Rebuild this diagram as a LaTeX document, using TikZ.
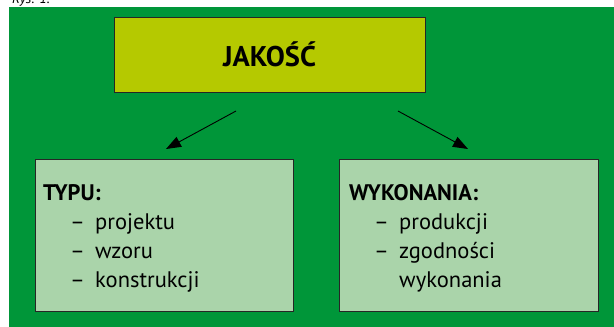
\documentclass[tikz,border=0pt]{standalone}
\usepackage{fontspec}
\setmainfont{PT Sans}
\usetikzlibrary{arrows.meta}
\definecolor{bggreen}{RGB}{0,150,57}
\definecolor{topfill}{RGB}{181,201,0}
\definecolor{boxfill}{RGB}{170,212,170}
\tikzset{
  box/.style={draw=black!85, line width=1pt, inner sep=0pt},
  arr/.style={draw=black, line width=0.9pt, -{Triangle[length=15pt,width=11pt]}},
  body/.style={font=\fontsize{22.5}{25}\selectfont, anchor=base west, inner sep=0pt},
  head/.style={font=\fontsize{22.5}{25}\selectfont\bfseries, anchor=base west, inner sep=0pt}
}
\begin{document}
\begin{tikzpicture}[x=1pt,y=-1pt]
\useasboundingbox (0,0) rectangle (614,327);
\fill[white] (0,0) rectangle (614,327);
\node[font=\itshape\fontsize{14}{16}\selectfont, anchor=base west, inner sep=0pt] (rys) at (12,3) {Rys. 1.};
\fill[bggreen] (9,7) rectangle (614,327);
\draw[box, fill=topfill] (114,17) rectangle (425,92);
\node[font=\fontsize{28.5}{32}\selectfont\bfseries, inner sep=0pt] (jakosc) at (269.5,54.5) {JAKOŚĆ};
\draw[box, fill=boxfill] (35,159) rectangle (293,311);
\draw[box, fill=boxfill] (339,159) rectangle (598,311);
\coordinate (a1s) at (236,111);
\coordinate (a1e) at (166,149);
\coordinate (a2s) at (398,111);
\coordinate (a2e) at (468,149);
\draw[arr] (a1s) -- (a1e);
\draw[arr] (a2s) -- (a2e);
\node[head] (typu) at (43,200) {TYPU:};
\node[body] (d1) at (70,229) {–};
\node[body] (t1) at (95,229) {projektu};
\node[body] (d2) at (70,258) {–};
\node[body] (t2) at (95,258) {wzoru};
\node[body] (d3) at (70,287) {–};
\node[body] (t3) at (95,287) {konstrukcji};
\node[head] (wyk) at (349,200) {WYKONANIA:};
\node[body] (e1) at (374,229) {–};
\node[body] (u1) at (399,229) {produkcji};
\node[body] (e2) at (374,258) {–};
\node[body] (u2) at (399,258) {zgodności};
\node[body] (u3) at (399,287) {wykonania};
\end{tikzpicture}
\end{document}
